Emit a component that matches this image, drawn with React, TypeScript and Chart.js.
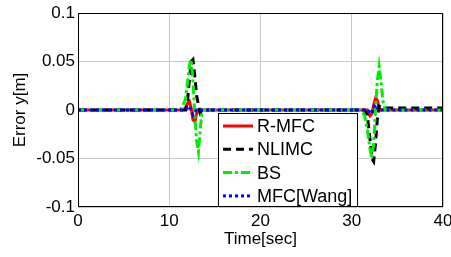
import React, { useEffect, useRef } from "react";
import { Chart, registerables } from "chart.js";

Chart.register(...registerables);

const times = [0, 11, 11.4, 11.8, 12.0, 12.2, 12.4, 12.6, 12.8, 13.0, 13.2, 13.4, 13.6, 14, 20, 30.9, 31.4, 31.7, 32.0, 32.2, 32.4, 32.6, 32.8, 33.0, 33.2, 33.4, 33.7, 34, 40];
const rmfc = [0, 0, 0, 0.002, 0.007, 0.009, 0.002, -0.01, -0.012, -0.004, 0, 0, 0, 0, 0, 0, 0, 0, -0.006, -0.004, 0.005, 0.012, 0.01, 0.002, 0, 0, 0, 0, 0];
const nlimc = [0, 0, 0, 0, 0.01, 0.03, 0.05, 0.052, 0.035, 0.015, 0.005, -0.003, 0, 0, 0, 0, 0, -0.005, -0.03, -0.05, -0.053, -0.035, -0.01, 0.004, 0.003, 0.002, 0.002, 0.002, 0.002];
const bs = [0, 0, 0.002, 0.012, 0.028, 0.046, 0.052, 0.03, -0.005, -0.032, -0.043, -0.02, 0, 0, 0, 0, -0.005, -0.02, -0.04, -0.05, -0.035, 0.0, 0.03, 0.045, 0.03, 0.01, 0, 0, 0];
const wang = [0, 0, 0, 0, 0.002, 0.004, 0, -0.005, -0.002, 0, 0, 0, 0, 0, 0, 0, 0, 0, -0.002, -0.004, 0.003, 0.006, 0.002, 0, 0, 0, 0, 0, 0];

const xTicks = [0, 10, 20, 30, 40];
const yTicks = [-0.1, -0.05, 0, 0.05, 0.1];
const seriesNames = ["R-MFC", "NLIMC", "BS", "MFC[Wang]"];

const FONT = "Liberation Sans, Arial, sans-serif";

const styles = [
  { color: "#ff0000", dash: [] as number[] },
  { color: "#000000", dash: [8, 5] },
  { color: "#00ee00", dash: [9, 3, 3, 3] },
  { color: "#0000ff", dash: [3, 3] },
];

const boxLegend = {
  id: "boxLegend",
  afterDraw(chart: any) {
    const { ctx, chartArea } = chart;
    ctx.save();
    ctx.strokeStyle = "#000";
    ctx.lineWidth = 1;
    ctx.setLineDash([]);
    ctx.strokeRect(chartArea.left + 0.5, chartArea.top + 0.5, chartArea.right - chartArea.left - 1, chartArea.bottom - chartArea.top - 1);
    const lx = chartArea.left + 140;
    const ly = chartArea.top + 100;
    const w = 140;
    const h = chartArea.bottom - ly;
    ctx.fillStyle = "#fff";
    ctx.fillRect(lx, ly, w, h);
    ctx.strokeRect(lx + 0.5, ly + 0.5, w - 1, h - 1);
    ctx.font = `18px ${FONT}`;
    ctx.textBaseline = "middle";
    seriesNames.forEach((name, i) => {
      const y = ly + 13 + i * 23.3;
      ctx.strokeStyle = styles[i].color;
      ctx.lineWidth = 3;
      ctx.setLineDash(styles[i].dash);
      ctx.beginPath();
      ctx.moveTo(lx + 5, y);
      ctx.lineTo(lx + 35, y);
      ctx.stroke();
      ctx.fillStyle = "#000";
      ctx.fillText(name, lx + 39, y + 1);
    });
    ctx.restore();
  },
};

export default function App() {
  const ref = useRef<HTMLCanvasElement>(null);
  useEffect(() => {
    document.body.style.margin = "0";
    const seriesData = [rmfc, nlimc, bs, wang];
    const chart = new Chart(ref.current!, {
      type: "line",
      data: {
        datasets: seriesData.map((vals, i) => ({
          label: seriesNames[i],
          data: times.map((t, k) => ({ x: t, y: vals[k] })),
          borderColor: styles[i].color,
          borderDash: styles[i].dash,
          borderWidth: 3,
          pointRadius: 0,
          tension: 0,
          fill: false,
          order: 3 - i,
        })),
      },
      options: {
        animation: false,
        responsive: false,
        layout: { padding: { top: 13, right: 8, left: 0, bottom: 7 } },
        plugins: { legend: { display: false }, tooltip: { enabled: false } },
        scales: {
          x: {
            type: "linear",
            min: 0,
            max: 40,
            afterBuildTicks: (s: any) => { s.ticks = xTicks.map((v) => ({ value: v })); },
            afterFit: (s: any) => { s.height = 43; s.paddingLeft = 0; s.paddingRight = 0; },
            ticks: { color: "#000", font: { family: FONT, size: 17 }, padding: 4, maxRotation: 0, autoSkip: false },
            grid: { color: "#c8c8c8", lineWidth: 1, drawTicks: false },
            border: { display: false },
            title: { display: true, text: "Time[sec]", color: "#000", font: { family: FONT, size: 17 }, padding: { top: 0, bottom: 0 } },
          },
          y: {
            type: "linear",
            min: -0.1,
            max: 0.1,
            afterBuildTicks: (s: any) => { s.ticks = yTicks.map((v) => ({ value: v })); },
            afterFit: (s: any) => { s.width = 78; s.paddingTop = 0; s.paddingBottom = 0; },
            ticks: {
              color: "#000",
              font: { family: FONT, size: 17 },
              padding: 3,
              callback: (v: any) => String(+Number(v).toFixed(2)),
            },
            grid: { color: "#c8c8c8", lineWidth: 1, drawTicks: false },
            border: { display: false },
            title: { display: true, text: "Error y[m]", color: "#000", font: { family: FONT, size: 17 }, padding: { top: 10, bottom: 0 } },
          },
        },
      },
      plugins: [boxLegend],
    } as any);
    return () => chart.destroy();
  }, []);
  return <canvas ref={ref} width={451} height={257} style={{ display: "block", width: 451, height: 257 }} />;
}
